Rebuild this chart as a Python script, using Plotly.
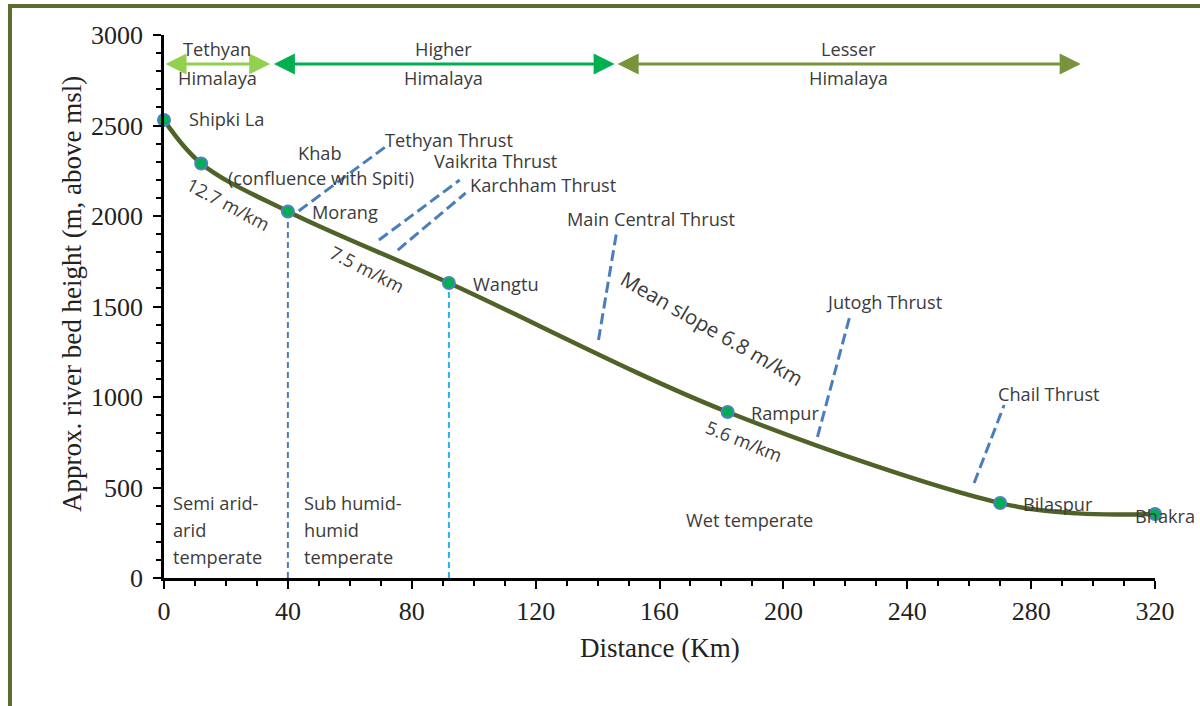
import plotly.graph_objects as go

# ---------------- data ----------------
stations = ["Shipki La", "Khab", "Morang", "Wangtu", "Rampur", "Bilaspur", "Bhakra"]
station_km = [0, 12, 40, 92, 182, 270, 320]
station_height = [2530, 2290, 2025, 1630, 917, 414, 354]

# river profile (stations plus one point read where the curve flattens)
profile_km = [0, 12, 40, 92, 182, 270, 295, 320]
profile_height = [2530, 2290, 2025, 1630, 917, 414, 357, 354]

thrust_names = ["Tethyan Thrust", "Vaikrita Thrust", "Karchham Thrust",
                "Main Central Thrust", "Jutogh Thrust", "Chail Thrust"]
thrust_x0 = [43.5, 69.4, 75.5, 140.3, 211.0, 261.6]
thrust_y0 = [2028, 1867, 1812, 1315, 779, 525]
thrust_x1 = [71.9, 95.5, 97.4, 146.1, 221.3, 271.3]
thrust_y1 = [2387, 2199, 2127, 1906, 1436, 956]

zone_names = ["Tethyan<br>Himalaya", "Higher<br>Himalaya", "Lesser<br>Himalaya"]
zone_start = [0, 35, 146]
zone_end = [34.3, 145.5, 296]
zone_level = 2840

x_ticks = [0, 40, 80, 120, 160, 200, 240, 280, 320]
y_ticks = [0, 500, 1000, 1500, 2000, 2500, 3000]

# ---------------- styles ----------------
TXT = "#3b3b3b"
SANS = "Open Sans"
SERIF = "Liberation Serif"
FS = 18.2
zone_colors = ["#92d050", "#3fca77", "#77933c"]
zone_head_colors = ["#92d050", "#00b050", "#77933c"]

fig = go.Figure()

# vertical climate-zone separators (at Morang and Wangtu)
sep_idx = [2, 3]
sep_colors = ["#4a7ebb", "#1fb5ec"]
for i, c in zip(sep_idx, sep_colors):
    fig.add_trace(go.Scatter(x=[station_km[i], station_km[i]], y=[0, station_height[i]],
                             mode="lines", line=dict(color=c, width=2, dash="6px,4px"),
                             hoverinfo="skip", showlegend=False))

# thrust lines
for n, xa, ya, xb, yb in zip(thrust_names, thrust_x0, thrust_y0, thrust_x1, thrust_y1):
    fig.add_trace(go.Scatter(x=[xa, xb], y=[ya, yb], mode="lines", name=n,
                             line=dict(color="#4a7ebb", width=3, dash="11px,5px"),
                             hoverinfo="skip", showlegend=False))

# river profile
fig.add_trace(go.Scatter(x=profile_km, y=profile_height, mode="lines",
                         line=dict(color="#4f6228", width=4.5, shape="spline", smoothing=1.0),
                         hoverinfo="skip", showlegend=False))
fig.add_trace(go.Scatter(x=station_km, y=station_height, mode="markers", text=stations,
                         marker=dict(size=12, color="#00b050",
                                     line=dict(color="#4f81bd", width=2)),
                         cliponaxis=False, showlegend=False))

ann = []

# zone arrows
for name, a, b, c, hc in zip(zone_names, zone_start, zone_end, zone_colors, zone_head_colors):
    ann.append(dict(x=b, y=zone_level, ax=a, ay=zone_level, xref="x", yref="y",
                    axref="x", ayref="y", text="", showarrow=True, arrowhead=2,
                    arrowside="end+start", arrowsize=1.4, arrowwidth=3, arrowcolor=hc))
    top, bot = name.split("<br>")
    mid = (a + b) / 2
    ann.append(dict(x=mid, y=2922, text=top, showarrow=False, xref="x", yref="y",
                    borderpad=0, font=dict(family=SANS, size=FS, color=TXT)))
    ann.append(dict(x=mid, y=2760, text=bot, showarrow=False, xref="x", yref="y",
                    borderpad=0, font=dict(family=SANS, size=FS, color=TXT)))


def label(x, y, t, anchor="left", size=FS, angle=0):
    ann.append(dict(x=x, y=y, text=t, showarrow=False, xref="x", yref="y",
                    xanchor=anchor, yanchor="middle", textangle=angle, borderpad=0,
                    font=dict(family=SANS, size=size, color=TXT)))


# station labels
label(7.75, 2536, "Shipki La")
label(50.5, 2348, "Khab", "center")
label(50.7, 2210, "(confluence with Spiti)", "center")
label(47.5, 2022, "Morang")
label(99.5, 1624, "Wangtu")
label(189.2, 912, "Rampur")
label(277.0, 409, "Bilaspur")
label(313.2, 343, "Bhakra")

# thrust labels
thrust_label_x = [71.0, 86.9, 98.5, 129.8, 213.4, 269.0]
thrust_label_y = [2422, 2305, 2172, 1983, 1525, 1017]
for n, x, y in zip(thrust_names, thrust_label_x, thrust_label_y):
    label(x, y, n)

# slopes
label(20.7, 2066, "12.7 m/km", "center", FS, 28)
label(65.5, 1707, "7.5 m/km", "center", FS, 27)
label(176.9, 1381, "Mean slope 6.8 m/km", "center", 20.5, 30)
label(187.3, 757, "5.6 m/km", "center", FS, 22)

# climate zones
for t, y in zip(["Semi arid-", "arid", "temperate"], [414, 265, 116]):
    label(2.6, y, t)
for t, y in zip(["Sub humid-", "humid", "temperate"], [414, 265, 116]):
    label(44.9, y, t)
label(189.2, 320, "Wet temperate", "center")

# axis titles
ann.append(dict(x=0.5005, y=-0.129, xref="paper", yref="paper", text="Distance (Km)",
                xanchor="center", yanchor="middle",
                showarrow=False, font=dict(family=SERIF, size=27, color="#222")))
ann.append(dict(x=-0.0928, y=0.523, xref="paper", yref="paper",
                text="Approx. river bed height (m, above msl)", textangle=-90,
                xanchor="center", yanchor="middle",
                showarrow=False, font=dict(family=SERIF, size=27, color="#222")))

fig.update_layout(
    width=1200, height=706,
    margin=dict(l=164, r=45, t=35, b=128),
    paper_bgcolor="white", plot_bgcolor="white",
    annotations=ann,
    shapes=[dict(type="path", xref="paper", yref="paper",
                 path="M -0.1554,-0.25 L -0.1554,1.0534 L 1.06,1.0534",
                 line=dict(color="#5c6e2d", width=4))],
    xaxis=dict(range=[0, 320], tickvals=x_ticks, showgrid=False, zeroline=False,
               showline=True, linecolor="black", linewidth=2.5,
               ticks="outside", ticklen=8, tickwidth=2, tickcolor="black",
               minor=dict(dtick=10, ticks="outside", ticklen=5, tickwidth=2, tickcolor="black"),
               tickfont=dict(family=SERIF, size=26, color="#222"), ticklabelstandoff=0),
    yaxis=dict(range=[0, 3000], tickvals=y_ticks, showgrid=False, zeroline=False,
               showline=True, linecolor="black", linewidth=2.5,
               ticks="outside", ticklen=8, tickwidth=2, tickcolor="black",
               minor=dict(dtick=100, ticks="outside", ticklen=5, tickwidth=2, tickcolor="black"),
               tickfont=dict(family=SERIF, size=26, color="#222"), ticklabelstandoff=5),
)

fig.write_html("out.html", config={"displayModeBar": False},
               post_script="document.body.style.margin='0';")
